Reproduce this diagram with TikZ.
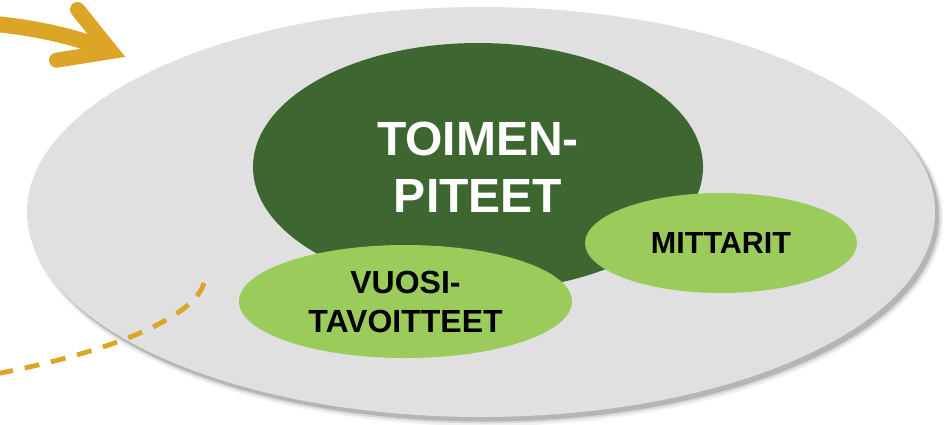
\documentclass[tikz,border=0pt]{standalone}
\usepackage{fontspec}
\setmainfont{Liberation Sans}
\usetikzlibrary{shapes.geometric}
\definecolor{bggrey}{HTML}{E0E0E0}
\definecolor{dkgreen}{HTML}{3E6631}
\definecolor{ltgreen}{HTML}{9BCB5A}
\definecolor{goldline}{HTML}{DDA526}
\begin{document}
\begin{tikzpicture}[x=1pt,y=-1pt,
  blob/.style={ellipse, inner sep=0pt, outer sep=0pt, align=center},
  shade layer/.style={fill=black, opacity=#1},
  goldarrow/.style={draw=goldline, line width=16pt},
  goldhead/.style={draw=goldline, line width=15pt, line cap=round, line join=miter},
  golddash/.style={draw=goldline, line width=4.8pt, dash pattern=on 15pt off 12pt}
]
\useasboundingbox (0,0) rectangle (949,424);
% soft shadow of the large ellipse
\fill[shade layer=0.06] (486,218) ellipse [x radius=457pt, y radius=208pt];
\fill[shade layer=0.10] (485.5,217) ellipse [x radius=455.5pt, y radius=206.5pt];
\fill[shade layer=0.16] (485,216.5) ellipse [x radius=454pt, y radius=205pt];
% large grey ellipse
\node[blob, fill=bggrey, minimum width=908pt, minimum height=410pt] (outer) at (481,212) {};
% dashed curve
\coordinate (d0) at (204,283);
\coordinate (d1) at (-2,373.5);
\path[golddash] (d0) .. controls (195,315) and (120,350) .. (d1);
% curved arrow top-left
\coordinate (s0) at (-10,23.5);
\coordinate (hp) at (111.3,51.5);
\coordinate (h1) at (77.5,9.5);
\coordinate (h2) at (56.5,60.2);
\path[goldarrow] (s0) .. controls (40,28) and (80,38) .. (hp);
\path[goldhead] (h1) -- (hp) -- (h2);
% inner ellipses
\node[blob, fill=dkgreen, text=white, minimum width=450pt, minimum height=248pt,
      font=\bfseries\fontsize{48}{57}\selectfont] (toim) at (478,167) {TOIMEN-\\PITEET};
\node[blob, fill=ltgreen, text=black, minimum width=272pt, minimum height=100pt,
      font=\bfseries\fontsize{30.5}{36}\selectfont] (mitt) at (721,243) {MITTARIT};
\node[blob, fill=ltgreen, text=black, minimum width=333pt, minimum height=113pt,
      font=\bfseries\fontsize{32}{39}\selectfont] (vuosi) at (405.5,301.5) {VUOSI-\\TAVOITTEET};
\end{tikzpicture}
\end{document}
